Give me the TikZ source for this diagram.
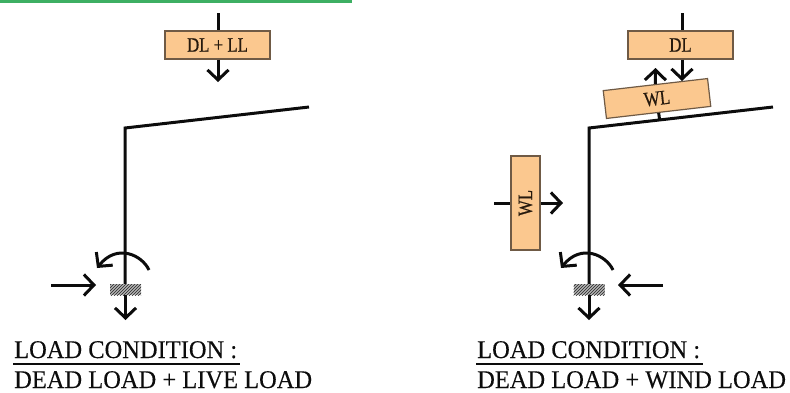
\documentclass[tikz,border=0pt]{standalone}
\usepackage{fontspec}
\usetikzlibrary{arrows.meta,patterns}
\setmainfont{Liberation Serif}
\newfontfamily\boxfont[FakeStretch=0.82,FakeBold=0.6]{Liberation Serif}
\newfontfamily\titlefont[FakeStretch=0.96,FakeBold=0.25]{Liberation Serif}
\definecolor{boxfill}{HTML}{FBC88F}
\definecolor{boxedge}{HTML}{6F5A45}
\definecolor{band}{HTML}{3DAF63}
\definecolor{inkc}{HTML}{0C0C0C}
\tikzset{
  member/.style={draw=inkc,line width=3pt,line join=miter},
  force/.style={draw=inkc,line width=3pt,-{Straight Barb[length=10pt,width=21pt,line width=3pt]}},
  plain stem/.style={draw=inkc,line width=3pt},
  loadbox/.style={draw=boxedge,fill=boxfill,line width=1.2pt,inner sep=0pt,minimum width=105pt,minimum height=28pt,
    font=\boxfont\fontsize{20.5}{20}\selectfont,text=black!80!brown},
  hatchbase/.style={preaction={fill=black!30},pattern=north east lines,pattern color=black!85,inner sep=0pt,minimum width=31pt,minimum height=11pt},
  condition/.style={anchor=base west,inner sep=0pt,font=\titlefont\fontsize{25.5}{26}\selectfont,text=inkc},
  rulel/.style={draw=inkc,line width=1.2pt}
}
\begin{document}
\begin{tikzpicture}[x=1pt,y=-1pt]
\useasboundingbox (0,0) rectangle (790,392);
\fill[band] (0,0) rectangle (352,2.5);

% --- left frame
\coordinate (lr) at (309,107);
\coordinate (lc) at (125,128);
\node[hatchbase] (lb) at (125.5,289.5) {};
\draw[member] (lr) -- (lc) -- (lb.north -| lc);
\node[loadbox] (ldl) at (217.5,45) {DL + LL};
\coordinate (lt) at (218,13);
\coordinate (ltip) at (218,82);
\draw[plain stem] (lt) -- (lt |- ldl.north);
\draw[force] (ltip |- ldl.south) -- (ltip);
\coordinate (lbt) at (125.5,320);
\draw[force] (lb.south) -- (lbt);
\coordinate (lha) at (51,285);
\coordinate (lhb) at (96,285);
\draw[force] (lha) -- (lhb);
\coordinate (lma) at (149,270);
\coordinate (lmb) at (97,268);
\draw[force] (lma) .. controls (142,255) and (117,243) .. (lmb);
\node[condition] (lt1) at (14,358) {LOAD CONDITION :};
\coordinate (lu1) at (13,364);
\coordinate (lu2) at (240,364);
\draw[rulel] (lu1) -- (lu2);
\node[condition] (lt2) at (14,388) {DEAD LOAD + LIVE LOAD};

% --- right frame
\coordinate (rr) at (773,107);
\coordinate (rc) at (589,128);
\node[hatchbase] (rb) at (589,289.5) {};
\draw[member] (rr) -- (rc) -- (rb.north -| rc);
\node[loadbox] (rdl) at (680.5,45) {DL};
\node[loadbox,rotate=6.6] (rwl) at (657,98.5) {WL};
\coordinate (rt) at (682,13);
\coordinate (rtip) at (682,81);
\draw[plain stem] (rt) -- (rt |- rdl.north);
\draw[force] (rtip |- rdl.south) -- (rtip);
\coordinate (rup) at (655.5,68);
\coordinate (rfoot) at (659.5,119);
\draw[force] (rwl.north) -- (rup);
\draw[plain stem] (rwl.south) -- (rfoot);
\node[loadbox,rotate=90,minimum width=94pt,minimum height=29pt] (rwind) at (525.5,203) {WL};
\coordinate (rwa) at (494,203);
\coordinate (rwb) at (563,203);
\draw[plain stem] (rwa) -- (rwind.north);
\draw[force] (rwind.south) -- (rwb);
\coordinate (rbt) at (589,320);
\draw[force] (rb.south) -- (rbt);
\coordinate (rha) at (663,285);
\coordinate (rhb) at (618,285);
\draw[force] (rha) -- (rhb);
\coordinate (rma) at (613,270);
\coordinate (rmb) at (561,268);
\draw[force] (rma) .. controls (606,255) and (581,243) .. (rmb);
\node[condition] (rt1) at (477,358) {LOAD CONDITION :};
\coordinate (ru1) at (476,364);
\coordinate (ru2) at (703,364);
\draw[rulel] (ru1) -- (ru2);
\node[condition] (rt2) at (477,388) {DEAD LOAD + WIND LOAD};
\end{tikzpicture}
\end{document}
